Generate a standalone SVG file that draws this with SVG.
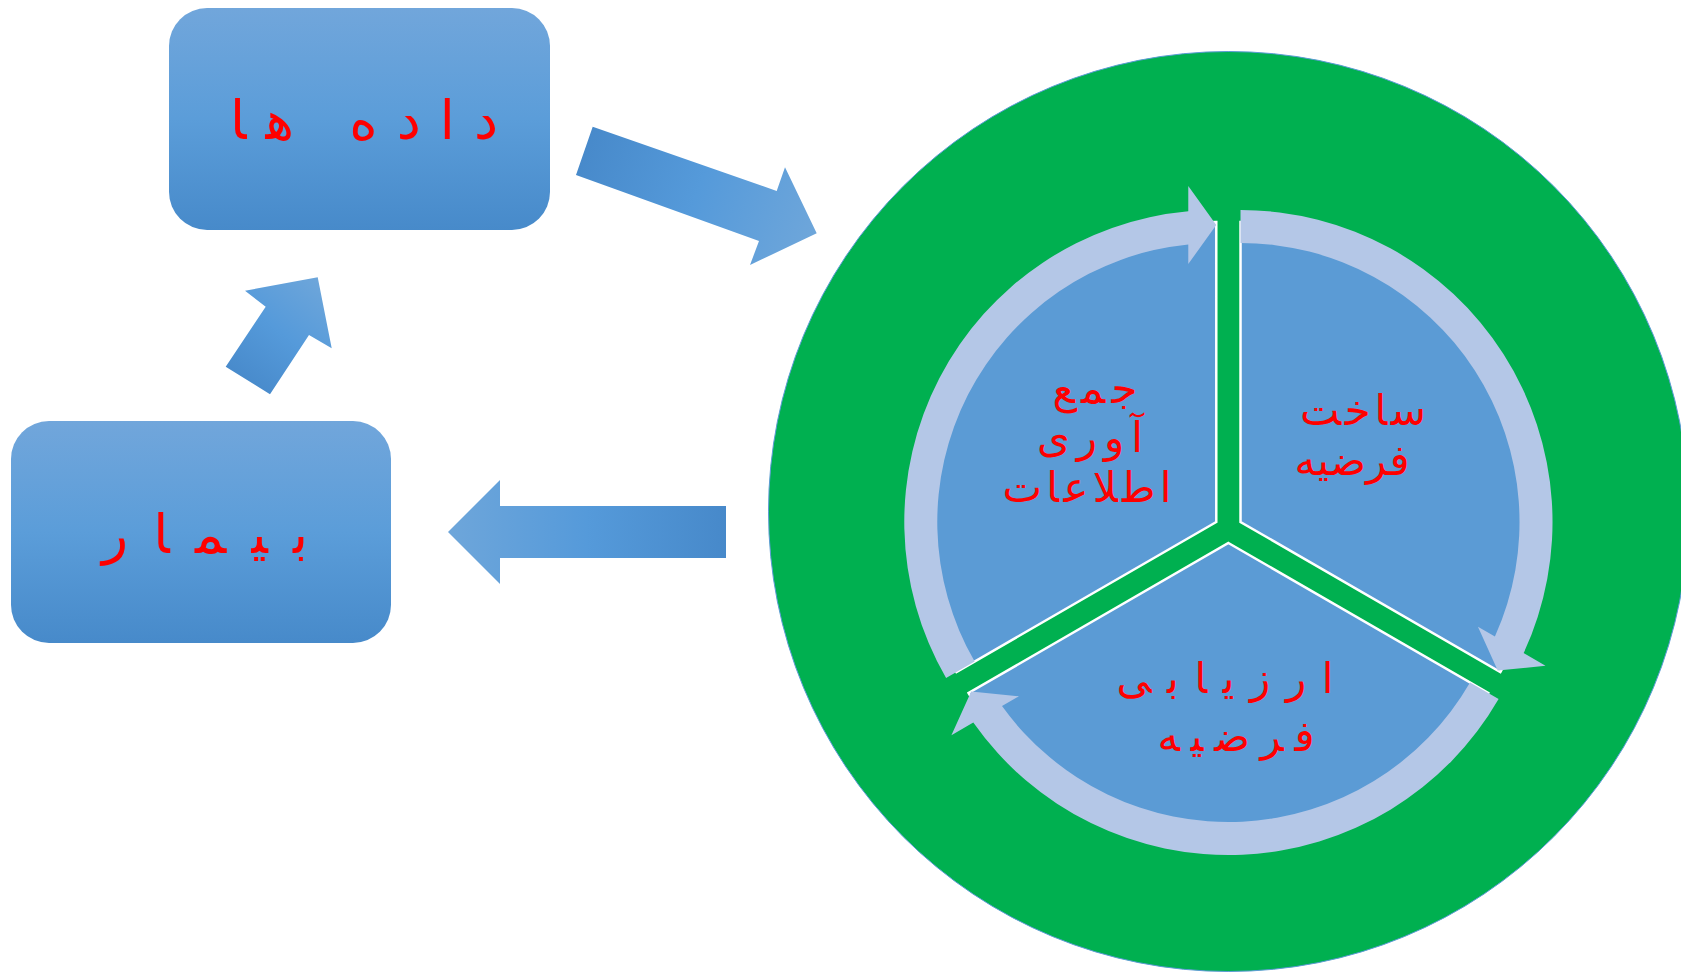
<svg xmlns="http://www.w3.org/2000/svg" width="1681" height="973" viewBox="0 0 1681 973">
<defs>
<linearGradient id="gBox" x1="0" y1="0" x2="0" y2="1">
<stop offset="0" stop-color="#71A6DB"/>
<stop offset="0.5" stop-color="#5B9DD9"/>
<stop offset="1" stop-color="#478ACA"/>
</linearGradient>
<linearGradient id="gA1" gradientUnits="userSpaceOnUse" x1="580" y1="150" x2="815" y2="235">
<stop offset="0" stop-color="#4789CA"/>
<stop offset="0.5" stop-color="#559ADA"/>
<stop offset="1" stop-color="#6EA6DA"/>
</linearGradient>
<linearGradient id="gA2" gradientUnits="userSpaceOnUse" x1="240" y1="385" x2="322" y2="280">
<stop offset="0" stop-color="#4789CA"/>
<stop offset="0.5" stop-color="#559ADA"/>
<stop offset="1" stop-color="#6EA6DA"/>
</linearGradient>
<linearGradient id="gA3" gradientUnits="userSpaceOnUse" x1="448" y1="532" x2="726" y2="532">
<stop offset="0" stop-color="#6EA6DA"/>
<stop offset="0.5" stop-color="#559ADA"/>
<stop offset="1" stop-color="#4789CA"/>
</linearGradient>
</defs>
<style>
.box{fill:url(#gBox);}
.sector{fill:#5B9BD5;stroke:#FFFFFF;stroke-width:2.5;stroke-linejoin:miter;}
.ring{fill:#B4C7E7;stroke:none;}
.lbl{font-family:"DejaVu Sans","Noto Sans",sans-serif;fill:#FF0000;text-anchor:middle;direction:rtl;}
.big{font-size:54px;}
.mid{font-size:42px;}
</style>

<g id="connectors">
<path id="arrow-data-to-cycle" fill="url(#gA1)" d="M592.7,126.7 L776.7,191 L785,167.3 L816.7,233.3 L750,265 L759,241 L576,175 Z"/>
<path id="arrow-patient-to-data" fill="url(#gA2)" d="M225.7,366.7 L265.7,306.7 L245,290.7 L317.7,277.3 L331.7,348.3 L309,335 L270,394.3 Z"/>
<path id="arrow-cycle-to-patient" fill="url(#gA3)" d="M448,532 L500,480 L500,506 L726,506 L726,558 L500,558 L500,584 Z"/>
</g>

<g id="node-data">
<rect class="box" x="169" y="8" width="381" height="222" rx="38" ry="38"/>
<text class="lbl big" x="364" y="139" textLength="268" lengthAdjust="spacing">داده ها</text>
</g>

<g id="node-patient">
<rect class="box" x="11" y="421" width="380" height="222" rx="38" ry="38"/>
<text class="lbl big" x="205" y="553" textLength="206" lengthAdjust="spacing">بیمار</text>
</g>

<g id="node-cycle">
<circle cx="1228.5" cy="511.5" r="460" fill="#00B050" stroke="#5B9BD5" stroke-width="1"/>

<g id="node-collect">
<path class="sector" d="M1216.28,522 L956.47,672 A300,300 0 0 1 1216.28,222 Z"/>
<path class="ring" d="M946.08,678 A312,312 0 0 1 1188.28,211.26 L1188.28,186 L1216.28,225 L1188.28,264 L1188.28,244.41 A279,279 0 0 0 974.66,661.5 Z"/>
<text class="lbl mid" x="1095" y="403" textLength="85" lengthAdjust="spacing">جمع</text>
<text class="lbl mid" x="1090" y="452" textLength="106" lengthAdjust="spacing">آوری</text>
<text class="lbl mid" x="1087" y="502" textLength="169" lengthAdjust="spacing">اطلاعات</text>
</g>

<g id="node-build">
<path class="sector" d="M1240.52,522 L1240.52,222 A300,300 0 0 1 1500.33,672 Z"/>
<path class="ring" d="M1240.52,210 A312,312 0 0 1 1523.63,653.12 L1545.5,665.75 L1497.73,670.5 L1477.95,626.75 L1494.92,636.55 A279,279 0 0 0 1240.52,243 Z"/>
<text class="lbl mid" x="1363" y="425" textLength="126" lengthAdjust="spacing">ساخت</text>
<text class="lbl mid" x="1352" y="475" textLength="115" lengthAdjust="spacing">فرضیه</text>
</g>

<g id="node-evaluate">
<path class="sector" d="M1228.4,543 L1488.21,693 A300,300 0 0 1 968.59,693 Z"/>
<path class="ring" d="M1498.6,699 A312,312 0 0 1 973.29,722.62 L951.42,735.25 L971.19,691.5 L1018.97,696.25 L1002,706.05 A279,279 0 0 0 1470.02,682.5 Z"/>
<text class="lbl mid" x="1225" y="693" textLength="217" lengthAdjust="spacing">ارزیابی</text>
<text class="lbl mid" x="1236" y="751" textLength="157" lengthAdjust="spacing">فرضیه</text>
</g>
</g>
</svg>
